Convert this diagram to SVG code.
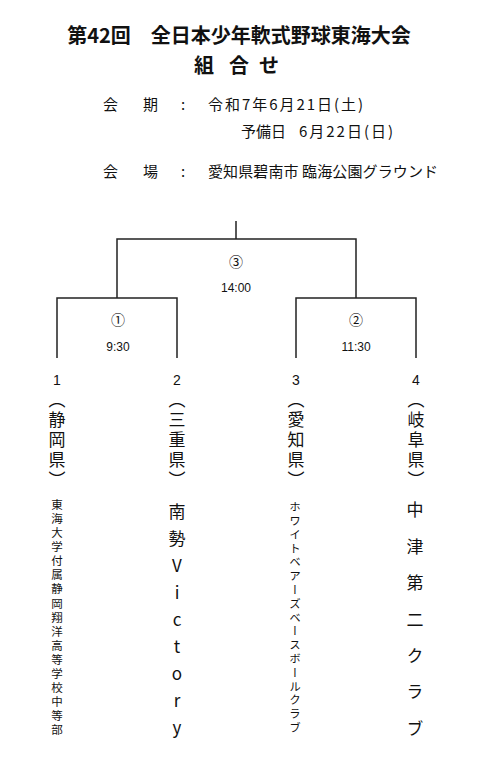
<svg xmlns="http://www.w3.org/2000/svg" width="480" height="776" viewBox="0 0 480 776">
<style>
.jp{font-family:"Noto Sans CJK JP","Noto Sans",sans-serif;fill:#111}
.title{font-size:20px;font-weight:bold}
.info{font-size:15px}
.lat{font-family:"Liberation Sans",Arial,sans-serif;fill:#111}
.num{font-size:14px;text-anchor:middle}
.time{font-size:12px;text-anchor:middle}
.circ{font-family:"Noto Sans CJK JP",sans-serif;font-size:14px;text-anchor:middle;fill:#111}
.vert{writing-mode:vertical-rl;font-family:"Noto Sans CJK JP",sans-serif;fill:#111}
.pref{font-size:17px;letter-spacing:3px}
.big{font-size:17px}
.small{font-size:11.5px}
.line{stroke:#222;stroke-width:1.5;fill:none}
</style>
<rect width="480" height="776" fill="#fff"/>
<g id="title">
<text class="jp title" x="239" y="43" text-anchor="middle">第42回　全日本少年軟式野球東海大会</text>
<text class="jp title" y="73"><tspan x="194">組</tspan><tspan x="229">合</tspan><tspan x="259">せ</tspan></text>
</g>
<g id="info">
<text class="jp info" y="110"><tspan x="103">会</tspan><tspan x="143">期</tspan><tspan x="181">:</tspan><tspan x="208" textLength="155">令和7年6月21日(土)</tspan></text>
<text class="jp info" y="137"><tspan x="241">予備日</tspan><tspan x="299" textLength="94">6月22日(日)</tspan></text>
<text class="jp info" y="177"><tspan x="103">会</tspan><tspan x="143">場</tspan><tspan x="181">:</tspan><tspan x="208" textLength="230">愛知県碧南市 臨海公園グラウンド</tspan></text>
</g>
<g id="connectors">
<path class="line" d="M236 221V239M117 298V239H356V298"/>
<path class="line" d="M57 358V298H177V358"/>
<path class="line" d="M296 358V298H416V358"/>
</g>
<g id="match3">
<text class="circ" x="236" y="267">③</text>
<text class="lat time" x="236" y="292">14:00</text>
</g>
<g id="match1">
<text class="circ" x="118" y="325">①</text>
<text class="lat time" x="118" y="351">9:30</text>
</g>
<g id="match2">
<text class="circ" x="356" y="325">②</text>
<text class="lat time" x="356" y="351">11:30</text>
</g>
<g id="team1">
<text class="lat num" x="57" y="385">1</text>
<text class="vert pref" x="57" y="391">（静岡県）</text>
<text class="vert small" x="57" y="499" style="letter-spacing:2.56px">東海大学付属静岡翔洋高等学校中等部</text>
</g>
<g id="team2">
<text class="lat num" x="177" y="385">2</text>
<text class="vert pref" x="177" y="391">（三重県）</text>
<text class="vert big" x="177" y="503" style="letter-spacing:10px;text-orientation:upright">南勢Victory</text>
</g>
<g id="team3">
<text class="lat num" x="296" y="385">3</text>
<text class="vert pref" x="296" y="391">（愛知県）</text>
<text class="vert small" x="295" y="501" style="letter-spacing:2.3px">ホワイトベアーズベースボールクラブ</text>
</g>
<g id="team4">
<text class="lat num" x="416" y="385">4</text>
<text class="vert pref" x="416" y="391">（岐阜県）</text>
<text class="vert big" x="415" y="501.5" style="letter-spacing:19.4px">中津第二クラブ</text>
</g>
</svg>
